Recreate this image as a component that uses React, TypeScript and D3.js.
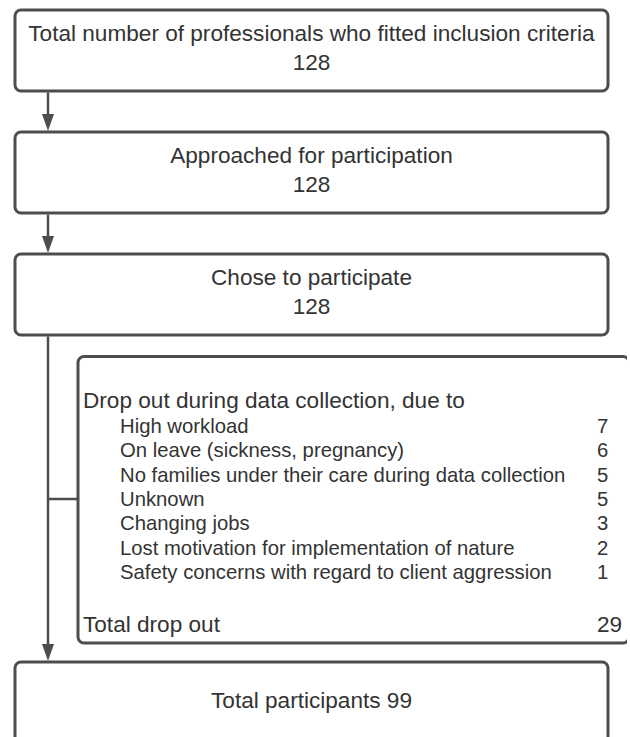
import React from "react";
import * as d3 from "d3";

const steps = [
  { title: "Total number of professionals who fitted inclusion criteria", n: "128" },
  { title: "Approached for participation", n: "128" },
  { title: "Chose to participate", n: "128" },
];
const dropTitle = "Drop out during data collection, due to";
const reasons = [
  "High workload",
  "On leave (sickness, pregnancy)",
  "No families under their care during data collection",
  "Unknown",
  "Changing jobs",
  "Lost motivation for implementation of nature",
  "Safety concerns with regard to client aggression",
];
const reasonCounts = [7, 6, 5, 5, 3, 2, 1];
const totalDropLabel = "Total drop out";
const finalLabel = "Total participants";

const W = 630;
const H = 737;
const STROKE = "#4d4d4d";
const TEXT = "#333333";
const FONT = "'Liberation Sans', Arial, sans-serif";

function Arrow({ x, y1, y2 }: { x: number; y1: number; y2: number }) {
  const hl = 17;
  const hw = 6;
  return (
    <g>
      <line x1={x} x2={x} y1={y1} y2={y2 - hl + 1} stroke={STROKE} strokeWidth={2.5} />
      <path d={`M${x - hw},${y2 - hl} L${x + hw},${y2 - hl} L${x},${y2} Z`} fill={STROKE} />
    </g>
  );
}

export default function App() {
  const totalDrop = d3.sum(reasonCounts);
  const finalN = +steps[2].n - totalDrop;

  const boxX = 15;
  const boxW = 593;
  const boxH = 81;
  const stepY = d3.scaleLinear().domain([0, 1]).range([10, 132]);
  const rowY = d3
    .scalePoint<number>()
    .domain(d3.range(reasons.length))
    .range([433, 579]);

  const lineX = 48;
  const dropTop = 356.5;
  const dropBot = 643;
  const dropX = 78;
  const dropRight = 629;
  const branchY = 499;
  const finalTop = 662;

  return (
    <svg
      width={W}
      height={H}
      style={{ position: "absolute", left: 0, top: 0, background: "#fff" }}
      fontFamily={FONT}
    >
      <rect width={W} height={H} fill="#fff" />
      {steps.map((s, i) => {
        const y = stepY(i);
        return (
          <g key={i}>
            <rect
              x={boxX}
              y={y}
              width={boxW}
              height={boxH}
              rx={6}
              fill="#fff"
              stroke={STROKE}
              strokeWidth={3}
            />
            <text x={boxX + boxW / 2} y={y + 31} textAnchor="middle" fontSize={22.6} fill={TEXT}>
              {s.title}
            </text>
            <text x={boxX + boxW / 2} y={y + 60} textAnchor="middle" fontSize={22.6} fill={TEXT}>
              {s.n}
            </text>
            {i < steps.length - 1 && (
              <Arrow x={lineX} y1={y + boxH + 1.5} y2={stepY(i + 1) - 1} />
            )}
          </g>
        );
      })}
      <Arrow x={lineX} y1={stepY(2) + boxH + 1.5} y2={finalTop - 1} />
      <line x1={lineX} x2={dropX} y1={branchY} y2={branchY} stroke={STROKE} strokeWidth={2.5} />
      {/* drop out box */}
      <rect
        x={dropX}
        y={dropTop}
        width={dropRight - dropX}
        height={dropBot - dropTop}
        rx={6}
        fill="#fff"
        stroke={STROKE}
        strokeWidth={3}
      />
      <rect x={627} y={dropTop - 3} width={4} height={dropBot - dropTop + 6} fill="#fff" />
      <text x={83} y={408} fontSize={22.6} fill={TEXT}>
        {dropTitle}
      </text>
      {reasons.map((r, i) => (
        <g key={r}>
          <text x={120} y={rowY(i) as number} fontSize={20.3} fill={TEXT}>
            {r}
          </text>
          <text x={597} y={rowY(i) as number} fontSize={20.3} fill={TEXT}>
            {reasonCounts[i]}
          </text>
        </g>
      ))}
      <text x={83} y={632} fontSize={22.6} fill={TEXT}>
        {totalDropLabel}
      </text>
      <text x={597} y={632} fontSize={22.6} fill={TEXT}>
        {totalDrop}
      </text>
      {/* final box */}
      <rect
        x={boxX}
        y={finalTop}
        width={boxW}
        height={120}
        rx={6}
        fill="#fff"
        stroke={STROKE}
        strokeWidth={3}
      />
      <text x={boxX + boxW / 2} y={708} textAnchor="middle" fontSize={22.6} fill={TEXT}>
        {finalLabel} {finalN}
      </text>
    </svg>
  );
}
